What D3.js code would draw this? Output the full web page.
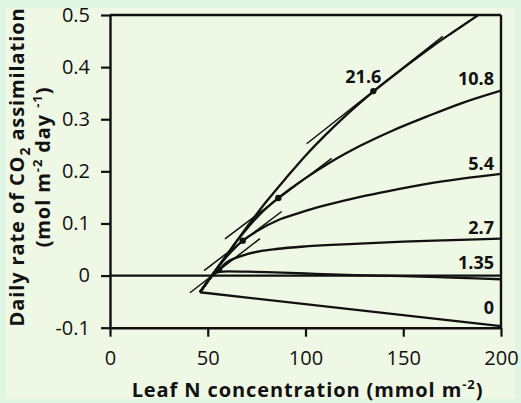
<!DOCTYPE html>
<html><head><meta charset="utf-8">
<script src="https://cdn.jsdelivr.net/npm/d3@7"></script>
<style>
body{margin:0;background:#dff6e5}
text{font-family:"Open Sans",sans-serif;fill:#111}
</style>
</head><body>
<svg id="c" width="521" height="403"></svg>
<script>
// ---------------- data ----------------
const seriesLabels = ["0", "1.35", "2.7", "5.4", "10.8", "21.6"];

const n0  = [46, 200];
const a0  = [-0.032, -0.097];

const n135 = [46, 50, 53, 56, 60, 70, 80, 100, 125, 150, 175, 200];
const a135 = [-0.032, -0.011, 0.002, 0.007, 0.008, 0.0075, 0.0065, 0.004, 0.001, -0.001, -0.004, -0.007];

const n27 = [46, 50, 53, 55.8, 60, 65, 70, 77, 85, 100, 125, 150, 175, 200];
const a27 = [-0.032, -0.011, 0.004, 0.012, 0.026, 0.035, 0.041, 0.047, 0.051, 0.056, 0.061, 0.065, 0.068, 0.071];

const n54 = [46, 50, 54, 58, 62, 67.9, 75, 87, 100, 112.5, 128, 145, 162, 180, 200];
const a54 = [-0.032, -0.011, 0.01, 0.029, 0.046, 0.067, 0.085, 0.108, 0.124, 0.137, 0.151, 0.164, 0.176, 0.186, 0.195];

const n108 = [46, 50, 55, 60, 65, 70, 76, 86.1, 100, 112.5, 128, 145, 162, 180, 200];
const a108 = [-0.032, -0.011, 0.015, 0.041, 0.067, 0.09, 0.115, 0.149, 0.187, 0.217, 0.249, 0.279, 0.305, 0.331, 0.355];

const n216 = [46, 55, 65, 71, 80, 90, 100, 110, 120, 134.7, 150, 165, 175, 188.4];
const a216 = [-0.032, 0.015, 0.067, 0.098, 0.142, 0.187, 0.23, 0.269, 0.305, 0.353, 0.398, 0.44, 0.466, 0.5];

// optimum points and their (parallel) tangent lines, for 2.7, 5.4, 10.8, 21.6
const dotN = [55.8, 67.9, 86.1, 134.7];
const dotA = [0.011, 0.067, 0.149, 0.354];
const tanN1 = [40.9, 48.1, 58.8, 100.6];
const tanA1 = [-0.033, 0.0096, 0.0704, 0.253];
const tanN2 = [76.7, 87.8, 113.4, 170.2];
const tanA2 = [0.071, 0.123, 0.225, 0.459];

const xTicks = [0, 50, 100, 150, 200];
const yTicks = [-0.1, 0, 0.1, 0.2, 0.3, 0.4, 0.5];
const yTickLabels = ["-0.1", "0", "0.1", "0.2", "0.3", "0.4", "0.5"];

// ---------------- drawing ----------------
const svg = d3.select("#c");
svg.append("rect").attr("x",0).attr("y",0).attr("width",521).attr("height",403).attr("fill","#dff6e5");
svg.append("rect").attr("x",6).attr("y",8).attr("width",509).attr("height",391).attr("fill","#eff8e4");

const x = d3.scaleLinear().domain([0,200]).range([110,501]);
const y = d3.scaleLinear().domain([-0.1,0.5]).range([327.7,15]);

const series = [
  {n:n0, a:a0}, {n:n135, a:a135}, {n:n27, a:a27},
  {n:n54, a:a54}, {n:n108, a:a108}, {n:n216, a:a216}
];

// zero line
svg.append("line").attr("x1",x(0)).attr("x2",x(200)).attr("y1",y(0)).attr("y2",y(0))
  .attr("stroke","#111").attr("stroke-width",2.2);

// frame top and right
svg.append("line").attr("x1",x(0)).attr("x2",x(200)).attr("y1",y(0.5)).attr("y2",y(0.5))
  .attr("stroke","#111").attr("stroke-width",2.4);
svg.append("line").attr("x1",x(200)).attr("x2",x(200)).attr("y1",y(0.5)).attr("y2",y(-0.1))
  .attr("stroke","#111").attr("stroke-width",2.4);

// axes
const yAxis = d3.axisLeft(y).tickValues(yTicks).tickFormat((d,i)=>yTickLabels[i])
  .tickSize(9).tickSizeOuter(0).tickPadding(11);
const gy = svg.append("g").attr("transform",`translate(${x(0)},0)`).call(yAxis);
const xAxis = d3.axisBottom(x).tickValues(xTicks).tickFormat(d3.format("d"))
  .tickSize(9).tickSizeOuter(0).tickPadding(14);
const gx = svg.append("g").attr("transform",`translate(0,${y(-0.1)})`).call(xAxis);
[gx, gy].forEach(g=>{
  g.select(".domain").attr("stroke","#111").attr("stroke-width",2.4);
  g.selectAll(".tick line").attr("stroke","#111").attr("stroke-width",2.2);
  g.selectAll(".tick text").attr("font-size",20).attr("font-family","Open Sans").attr("fill","#111");
});

// clip
svg.append("clipPath").attr("id","pc").append("rect")
  .attr("x",x(0)).attr("y",y(0.5)).attr("width",x(200)-x(0)).attr("height",y(-0.1)-y(0.5));
const plot = svg.append("g").attr("clip-path","url(#pc)");

const line = d3.line().x(d=>x(d[0])).y(d=>y(d[1])).curve(d3.curveMonotoneX);
series.forEach(s=>{
  const pts = s.n.map((v,i)=>[v, s.a[i]]);
  plot.append("path").attr("d", line(pts)).attr("fill","none")
    .attr("stroke","#111").attr("stroke-width",2.3).attr("stroke-linejoin","round");
});

// tangents
tanN1.forEach((v,i)=>{
  plot.append("line").attr("x1",x(v)).attr("y1",y(tanA1[i]))
    .attr("x2",x(tanN2[i])).attr("y2",y(tanA2[i]))
    .attr("stroke","#111").attr("stroke-width",1.5);
});
// dots
dotN.forEach((v,i)=>{
  plot.append("circle").attr("cx",x(v)).attr("cy",y(dotA[i])).attr("r",3.2).attr("fill","#111");
});

// series labels
const labelDy = [-12, -10, -5, -4, -6];
series.slice(0,5).forEach((s,i)=>{
  svg.append("text").attr("x",x(200)-7).attr("y",y(s.a[s.a.length-1])+labelDy[i])
    .attr("text-anchor","end").attr("font-size",18).attr("font-weight","bold")
    .text(seriesLabels[i]);
});
svg.append("text").attr("x",x(dotN[3])-10).attr("y",y(dotA[3])-8)
  .attr("text-anchor","middle").attr("font-size",18).attr("font-weight","bold")
  .text(seriesLabels[5]);

// x title
const xt = svg.append("text").attr("x",307.5).attr("y",397).attr("text-anchor","middle")
  .attr("font-size",20).attr("font-weight","bold").attr("letter-spacing","0.9px");
xt.append("tspan").text("Leaf N concentration (mmol m");
xt.append("tspan").attr("font-size",13).attr("dy",-8).text("-2");
xt.append("tspan").attr("dy",8).text(")");

// y title
const yt1 = svg.append("text").attr("transform","translate(24,167) rotate(-90)")
  .attr("text-anchor","middle").attr("font-size",20).attr("font-weight","bold").attr("letter-spacing","0.9px");
yt1.append("tspan").text("Daily rate of CO");
yt1.append("tspan").attr("font-size",14).attr("dy",6).text("2");
yt1.append("tspan").attr("dy",-6).text(" assimilation");

const yt2 = svg.append("text").attr("transform","translate(50,167) rotate(-90)")
  .attr("text-anchor","middle").attr("font-size",20).attr("font-weight","bold").attr("letter-spacing","0.9px");
yt2.append("tspan").text("(mol m");
yt2.append("tspan").attr("font-size",13).attr("dy",-8).text("-2");
yt2.append("tspan").attr("dy",8).text(" day ");
yt2.append("tspan").attr("font-size",13).attr("dy",-8).text("-1");
yt2.append("tspan").attr("dy",8).text(")");
</script>
</body></html>
